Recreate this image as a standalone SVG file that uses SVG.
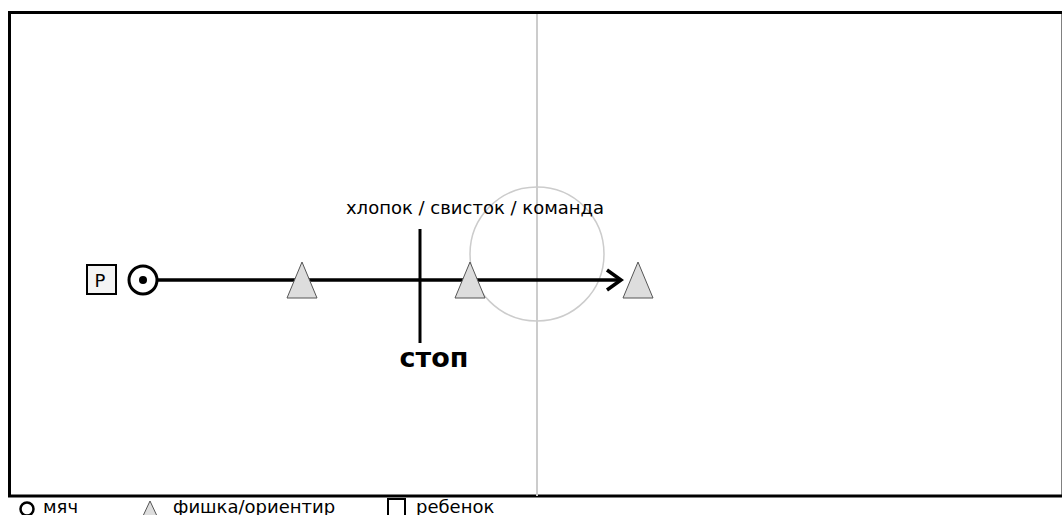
<svg xmlns="http://www.w3.org/2000/svg" width="1062" height="515" viewBox="0 0 1062 515">
<style>
.t{font-family:"DejaVu Sans",sans-serif;fill:#000}
.cone{fill:#dddddd;stroke:#555;stroke-width:1}
</style>
<rect width="1062" height="515" fill="#fff"/>
<g id="field">
<rect x="9.5" y="12.5" width="1053.5" height="483.5" fill="#fff" stroke="#000" stroke-width="3"/>
<line x1="537" y1="14" x2="537" y2="496" stroke="#cccccc" stroke-width="2"/>
<circle cx="537" cy="254" r="67" fill="none" stroke="#cccccc" stroke-width="1.5"/>
</g>
<g id="connectors">
<line x1="158" y1="280" x2="620" y2="280" stroke="#000" stroke-width="3.5"/>
<polyline points="607,270 621,280 607,290" fill="none" stroke="#000" stroke-width="3.5"/>
</g>
<g id="child">
<rect x="87" y="265" width="29" height="29" fill="#f4f4f4" stroke="#000" stroke-width="2"/>
<text class="t" x="100" y="287" font-size="18" text-anchor="middle">P</text>
</g>
<g id="ball">
<circle cx="143" cy="280" r="14" fill="#fff" stroke="#000" stroke-width="3"/>
<circle cx="143" cy="280" r="4" fill="#000"/>
</g>
<g id="cone1"><polygon class="cone" points="302,262 287,298 317,298"/></g>
<g id="cone2"><polygon class="cone" points="470,262 455,298 485,298"/></g>
<g id="cone3"><polygon class="cone" points="638,262 623,298 653,298"/></g>
<g id="stop">
<line x1="420" y1="229" x2="420" y2="343" stroke="#000" stroke-width="3"/>
<text class="t" x="434" y="367" font-size="27" font-weight="bold" text-anchor="middle">стоп</text>
</g>
<g id="signal">
<text class="t" x="475" y="214" font-size="18" text-anchor="middle">хлопок / свисток / команда</text>
</g>
<g id="legend">
<circle cx="27" cy="509" r="6.5" fill="none" stroke="#000" stroke-width="2.5"/>
<text class="t" x="43" y="513" font-size="18">мяч</text>
<polygon class="cone" points="150,501 143,516 157,516"/>
<text class="t" x="173" y="513" font-size="18">фишка/ориентир</text>
<rect x="388" y="499" width="17" height="20" fill="#fff" stroke="#000" stroke-width="2"/>
<text class="t" x="416" y="513" font-size="18">ребенок</text>
</g>
</svg>
